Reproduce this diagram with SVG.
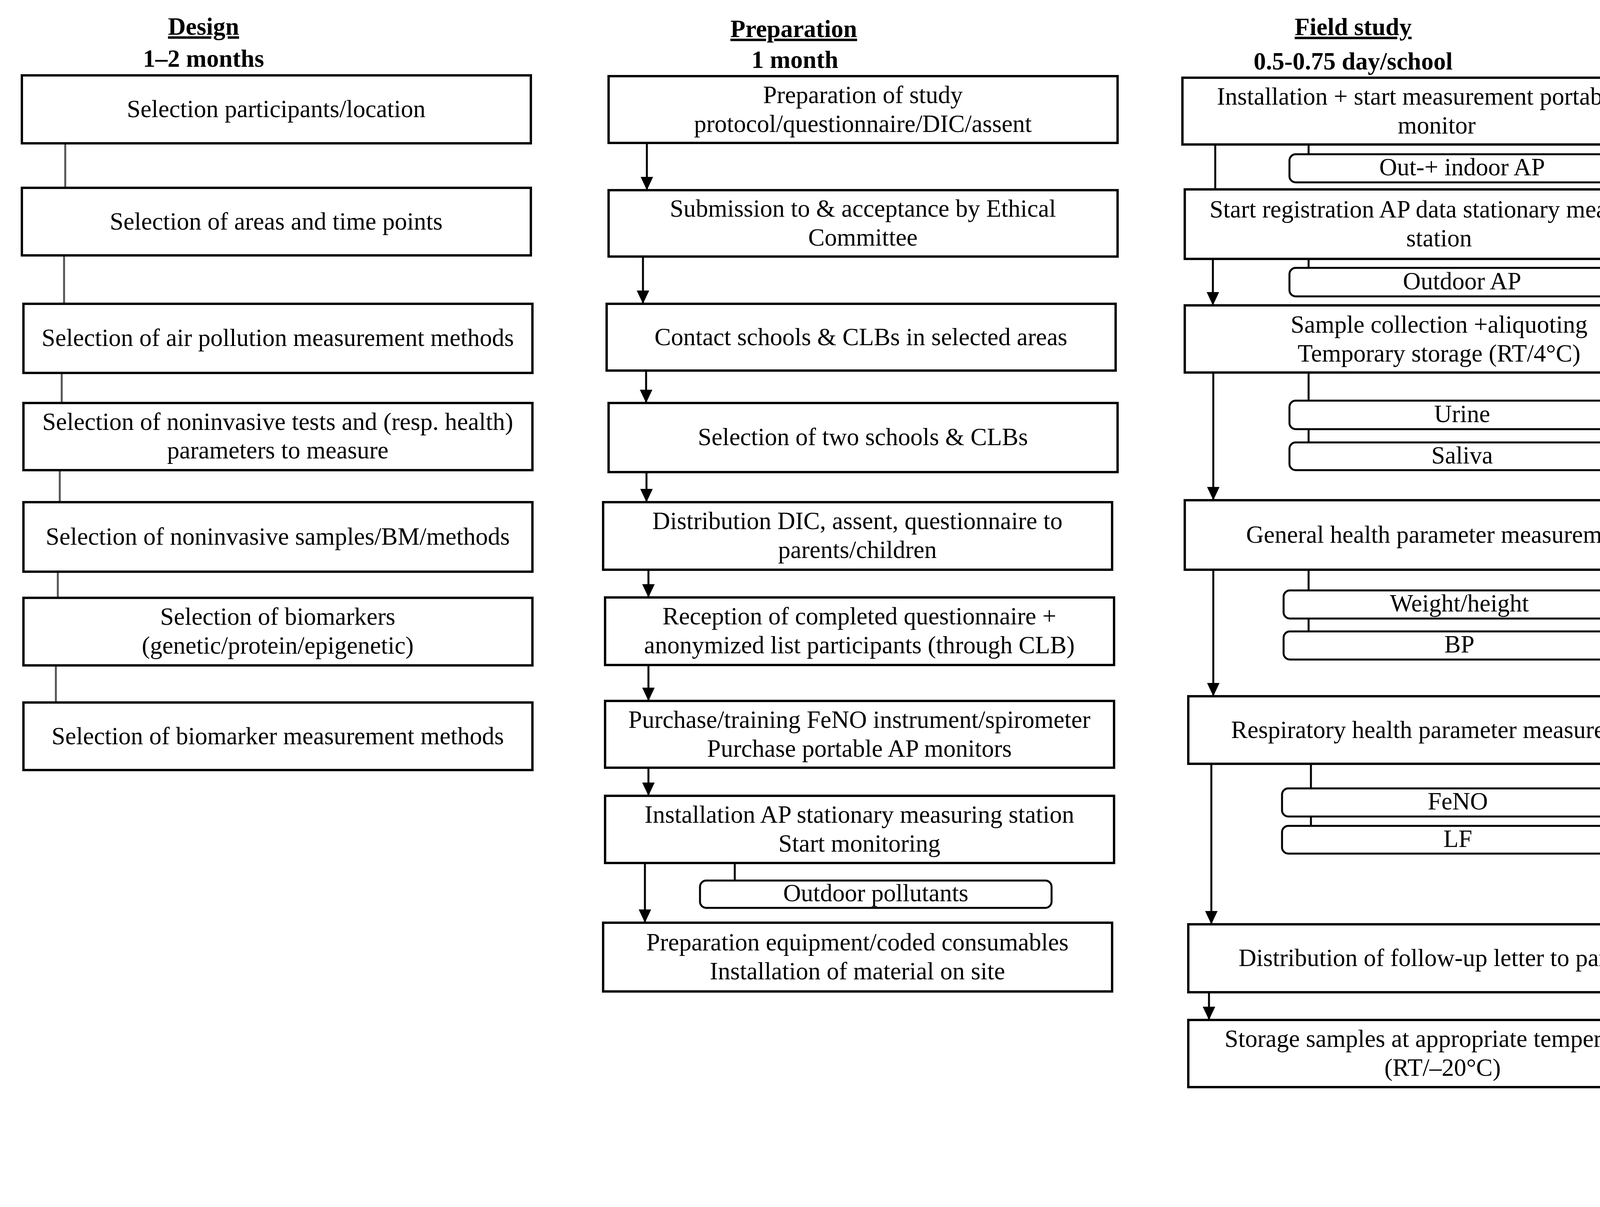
<svg xmlns="http://www.w3.org/2000/svg" width="5868" height="3091" viewBox="0 0 5868 3091">
<style>
text{font-family:"Liberation Serif","Times New Roman",serif;font-size:63px;fill:#000;text-anchor:middle}
.hd{font-weight:bold}
.ul{text-decoration:underline}
.box{fill:#fff;stroke:#000;stroke-width:6}
.sub{fill:#fff;stroke:#000;stroke-width:5}
.ln{stroke:#000;stroke-width:5;fill:none}
.gl{stroke:#555;stroke-width:5;fill:none}
.ar{stroke:#000;stroke-width:5;fill:none;marker-end:url(#ah)}
.dda{stroke:#000;stroke-width:4;fill:none;stroke-dasharray:36 14 6 14;marker-end:url(#ah)}
</style>
<defs>
<marker id="ah" viewBox="0 0 34 32" refX="34" refY="16" markerWidth="34" markerHeight="32" markerUnits="userSpaceOnUse" orient="auto">
<path d="M0,0 L34,16 L0,32 z" fill="#000"/>
</marker>
</defs>
<rect width="5868" height="3091" fill="#fff"/>

<g id="headers">
<text class="hd ul" x="521" y="89">Design</text>
<text class="hd" x="521" y="171">1–2 months</text>
<text class="hd ul" x="2032" y="95">Preparation</text>
<text class="hd" x="2035" y="174">1 month</text>
<text class="hd ul" x="3464" y="90">Field study</text>
<text class="hd" x="3464" y="178">0.5-0.75 day/school</text>
<text class="hd ul" x="4968" y="91">Analysis</text>
<text class="hd" x="4956" y="181">1 month</text>
</g>

<g id="connectors">
<line class="gl" x1="167" y1="367" x2="167" y2="481"/>
<line class="gl" x1="164" y1="654" x2="164" y2="778"/>
<line class="gl" x1="158" y1="955" x2="158" y2="1032"/>
<line class="gl" x1="153" y1="1204" x2="153" y2="1286"/>
<line class="gl" x1="148" y1="1464" x2="148" y2="1531"/>
<line class="gl" x1="143" y1="1704" x2="143" y2="1799"/>

<line class="ar" x1="1656" y1="366" x2="1656" y2="487"/>
<line class="ar" x1="1646" y1="657" x2="1646" y2="778"/>
<line class="ar" x1="1654" y1="949" x2="1654" y2="1032"/>
<line class="ar" x1="1655" y1="1209" x2="1655" y2="1286"/>
<line class="ar" x1="1660" y1="1459" x2="1660" y2="1530"/>
<line class="ar" x1="1660" y1="1703" x2="1660" y2="1795"/>
<line class="ar" x1="1660" y1="1966" x2="1660" y2="2038"/>
<line class="ar" x1="1651" y1="2210" x2="1651" y2="2363"/>
<line class="ln" x1="1881" y1="2210" x2="1881" y2="2255"/>

<line class="ln" x1="3111" y1="370" x2="3111" y2="485"/>
<line class="ln" x1="3350" y1="370" x2="3350" y2="395"/>
<line class="ln" x1="3350" y1="663" x2="3350" y2="686"/>
<line class="ar" x1="3105" y1="663" x2="3105" y2="782"/>
<line class="ln" x1="3350" y1="954" x2="3350" y2="1133"/>
<line class="ar" x1="3106" y1="954" x2="3106" y2="1281"/>
<line class="ln" x1="3350" y1="1459" x2="3350" y2="1617"/>
<line class="ar" x1="3106" y1="1459" x2="3106" y2="1783"/>
<line class="ln" x1="3356" y1="1956" x2="3356" y2="2115"/>
<line class="ar" x1="3101" y1="1956" x2="3101" y2="2367"/>
<line class="ar" x1="3095" y1="2541" x2="3095" y2="2612"/>

<line class="ln" x1="4628" y1="960" x2="4628" y2="1291"/>
<line class="ln" x1="4628" y1="1467" x2="4628" y2="1795"/>
<line class="ln" x1="4628" y1="1966" x2="4628" y2="2369"/>
<line class="ln" x1="4886" y1="960" x2="4886" y2="1161"/>
<line class="ln" x1="4887" y1="1467" x2="4887" y2="1614"/>
<line class="ln" x1="4886" y1="1966" x2="4886" y2="2131"/>
<line class="ln" x1="4878" y1="2545" x2="4878" y2="2974"/>

<path class="dda" d="M4186,1064 H4435 V873 H4536"/>
<path class="dda" d="M4186,1167 H4430 V1373 H4525"/>
<path class="dda" d="M4424,1167 V1880 H4507"/>
</g>

<g id="design">
<g id="d1"><rect class="box" x="56" y="193" width="1303" height="174"/><text x="707" y="300">Selection participants/location</text></g>
<g id="d2"><rect class="box" x="56" y="481" width="1303" height="173"/><text x="707" y="588">Selection of areas and time points</text></g>
<g id="d3"><rect class="box" x="60" y="778" width="1303" height="177"/><text x="711" y="886">Selection of air pollution measurement methods</text></g>
<g id="d4"><rect class="box" x="60" y="1032" width="1303" height="172"/><text x="711" y="1101">Selection of noninvasive tests and (resp. health)</text><text x="711" y="1174">parameters to measure</text></g>
<g id="d5"><rect class="box" x="60" y="1286" width="1303" height="178"/><text x="711" y="1395">Selection of noninvasive samples/BM/methods</text></g>
<g id="d6"><rect class="box" x="60" y="1531" width="1303" height="173"/><text x="711" y="1600">Selection of biomarkers</text><text x="711" y="1674">(genetic/protein/epigenetic)</text></g>
<g id="d7"><rect class="box" x="60" y="1799" width="1303" height="173"/><text x="711" y="1906">Selection of biomarker measurement methods</text></g>
</g>

<g id="preparation">
<g id="p1"><rect class="box" x="1558" y="195" width="1303" height="171"/><text x="2209" y="264">Preparation of study</text><text x="2209" y="338">protocol/questionnaire/DIC/assent</text></g>
<g id="p2"><rect class="box" x="1558" y="487" width="1303" height="170"/><text x="2209" y="555">Submission to &amp; acceptance by Ethical</text><text x="2209" y="629">Committee</text></g>
<g id="p3"><rect class="box" x="1553" y="778" width="1303" height="171"/><text x="2204" y="884">Contact schools &amp; CLBs in selected areas</text></g>
<g id="p4"><rect class="box" x="1558" y="1032" width="1303" height="177"/><text x="2209" y="1140">Selection of two schools &amp; CLBs</text></g>
<g id="p5"><rect class="box" x="1544" y="1286" width="1303" height="173"/><text x="2195" y="1355">Distribution DIC, assent, questionnaire to</text><text x="2195" y="1429">parents/children</text></g>
<g id="p6"><rect class="box" x="1549" y="1530" width="1303" height="173"/><text x="2200" y="1599">Reception of completed questionnaire +</text><text x="2200" y="1673">anonymized list participants (through CLB)</text></g>
<g id="p7"><rect class="box" x="1549" y="1795" width="1303" height="171"/><text x="2200" y="1864">Purchase/training FeNO instrument/spirometer</text><text x="2200" y="1938">Purchase portable AP monitors</text></g>
<g id="p8"><rect class="box" x="1549" y="2038" width="1303" height="172"/><text x="2200" y="2107">Installation AP stationary measuring station</text><text x="2200" y="2181">Start monitoring</text></g>
<g id="p8s"><rect class="sub" x="1792" y="2255" width="900" height="70" rx="16"/><text x="2242" y="2308">Outdoor pollutants</text></g>
<g id="p9"><rect class="box" x="1544" y="2363" width="1303" height="176"/><text x="2195" y="2434">Preparation equipment/coded consumables</text><text x="2195" y="2508">Installation of material on site</text></g>
</g>

<g id="field">
<g id="f1"><rect class="box" x="3027" y="199" width="1303" height="171"/><text x="3678" y="268">Installation + start measurement portable AP</text><text x="3678" y="342">monitor</text></g>
<g id="f1s"><rect class="sub" x="3301" y="395" width="885" height="72" rx="16"/><text x="3743" y="449">Out-+ indoor AP</text></g>
<g id="f2"><rect class="box" x="3033" y="485" width="1302" height="178"/><text x="3684" y="557">Start registration AP data stationary measuring</text><text x="3684" y="631">station</text></g>
<g id="f2s"><rect class="sub" x="3301" y="686" width="885" height="73" rx="16"/><text x="3743" y="741">Outdoor AP</text></g>
<g id="f3"><rect class="box" x="3033" y="782" width="1302" height="172"/><text x="3684" y="852">Sample collection +aliquoting</text><text x="3684" y="926">Temporary storage (RT/4°C)</text></g>
<g id="f3a"><rect class="sub" x="3301" y="1026" width="885" height="73" rx="16"/><text x="3743" y="1081">Urine</text></g>
<g id="f3b"><rect class="sub" x="3301" y="1133" width="885" height="71" rx="16"/><text x="3743" y="1187">Saliva</text></g>
<g id="f4"><rect class="box" x="3033" y="1281" width="1302" height="178"/><text x="3684" y="1390">General health parameter measurement</text></g>
<g id="f4a"><rect class="sub" x="3286" y="1512" width="900" height="72" rx="16"/><text x="3736" y="1566">Weight/height</text></g>
<g id="f4b"><rect class="sub" x="3286" y="1617" width="900" height="72" rx="16"/><text x="3736" y="1671">BP</text></g>
<g id="f5"><rect class="box" x="3042" y="1783" width="1302" height="173"/><text x="3693" y="1890">Respiratory health parameter measurement</text></g>
<g id="f5a"><rect class="sub" x="3282" y="2019" width="900" height="72" rx="16"/><text x="3732" y="2073">FeNO</text></g>
<g id="f5b"><rect class="sub" x="3282" y="2115" width="900" height="71" rx="16"/><text x="3732" y="2169">LF</text></g>
<g id="f6"><rect class="box" x="3042" y="2367" width="1302" height="174"/><text x="3693" y="2474">Distribution of follow-up letter to parents</text></g>
<g id="f7"><rect class="box" x="3042" y="2612" width="1302" height="172"/><text x="3693" y="2681">Storage samples at appropriate temperatures</text><text x="3693" y="2755">(RT/–20°C)</text></g>
</g>

<g id="analysis">
<g id="a1"><rect class="box" x="4536" y="782" width="1306" height="178"/><text x="5189" y="891">Measurement of protein BM</text></g>
<g id="a1a"><rect class="sub" x="4803" y="978" width="900" height="72" rx="16"/><text x="5253" y="1032">U-CC16</text></g>
<g id="a1b"><rect class="sub" x="4803" y="1069" width="900" height="73" rx="16"/><text x="5253" y="1124">U-B2M</text></g>
<g id="a1c"><rect class="sub" x="4803" y="1161" width="900" height="73" rx="16"/><text x="5253" y="1216">U-RBP4</text></g>
<g id="a2"><rect class="box" x="4525" y="1291" width="1303" height="176"/><text x="5176" y="1399">Measurement of genetic BM</text></g>
<g id="a2a"><rect class="sub" x="4803" y="1512" width="897" height="70" rx="16"/><text x="5251" y="1565">SNP <tspan font-style="italic">CC16</tspan> G38A</text></g>
<g id="a2b"><rect class="sub" x="4794" y="1614" width="900" height="70" rx="16"/><text x="5244" y="1667">SNP <tspan font-style="italic">UGRP</tspan>1 G112A</text></g>
<g id="a3"><rect class="box" x="4507" y="1795" width="1307" height="171"/><text x="5160" y="1901">Measurement of epigenetic BM</text></g>
<g id="a3a"><rect class="sub" x="4794" y="2028" width="900" height="72" rx="16"/><text x="5244" y="2082">TET-1 methylation</text></g>
<g id="a3b"><rect class="sub" x="4798" y="2131" width="902" height="64" rx="16"/><text x="5249" y="2181">miR222/miR146a</text></g>
<g id="a4"><rect class="box" x="4525" y="2369" width="1303" height="176"/><text x="5176" y="2477">Overall analysis</text></g>
<g id="a4a"><rect class="sub" x="4775" y="2585" width="900" height="70" rx="16"/><text x="5225" y="2638">participation rate</text></g>
<g id="a4b"><rect class="sub" x="4775" y="2680" width="900" height="70" rx="16"/><text x="5225" y="2733">questionnaires</text></g>
<g id="a4c"><rect class="sub" x="4775" y="2767" width="900" height="70" rx="16"/><text x="5225" y="2820">AP data analysis</text></g>
<g id="a4d"><rect class="sub" x="4775" y="2868" width="900" height="70" rx="16"/><text x="5225" y="2921">bottlenecks</text></g>
<g id="a4e"><rect class="sub" x="4771" y="2974" width="900" height="70" rx="16"/><text x="5221" y="3027">feasibility large scale</text></g>
</g>
</svg>
